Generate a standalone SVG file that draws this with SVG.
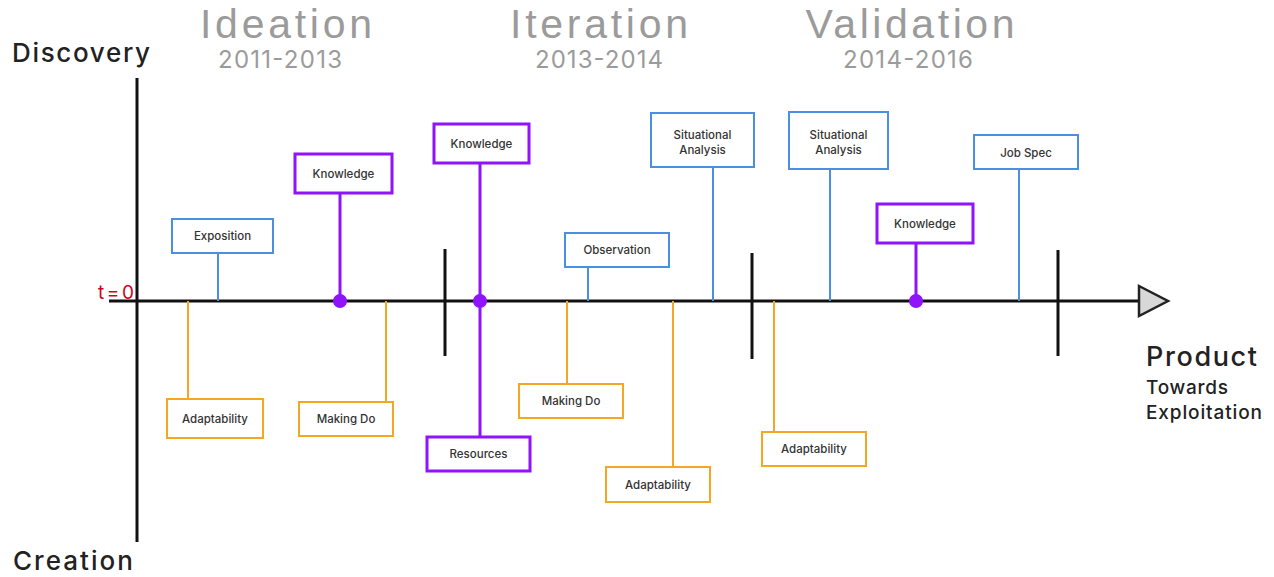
<svg xmlns="http://www.w3.org/2000/svg" width="1274" height="577" viewBox="0 0 1274 577">
  <style>
    .title { font-family: "Liberation Sans", Arial, sans-serif; fill: #9b9b9b; text-anchor: middle; }
    .big { font-size: 41px; }
    .years { font-family: Inter, "Liberation Sans", sans-serif; font-size: 24px; }
    .axislabel { font-family: Inter, "Liberation Sans", sans-serif; fill: #222; font-weight: 500; }
    .box rect { fill: #fff; stroke-width: 2; }
    .box text { font-family: Inter, "Liberation Sans", sans-serif; font-size: 11.5px; font-weight: 500; fill: #333; text-anchor: middle; }
    .blue rect { stroke: #4a90e2; }
    .purple rect { stroke: #9013fe; stroke-width: 3; }
    .orange rect { stroke: #f5a623; }
    .c-blue { stroke: #4a90e2; stroke-width: 2; }
    .c-purple { stroke: #9013fe; stroke-width: 3; }
    .c-orange { stroke: #f5a623; stroke-width: 2; }
    .axis { stroke: #111; stroke-width: 3; fill: none; }
    .dot { fill: #9013fe; }
  </style>

  <!-- phase headings -->
  <g id="phase-ideation">
    <text class="title big" x="286" y="38" textLength="172" lengthAdjust="spacing">Ideation</text>
    <text class="title years" x="280" y="68" textLength="124" lengthAdjust="spacing">2011-2013</text>
  </g>
  <g id="phase-iteration">
    <text class="title big" x="599" y="38" textLength="178" lengthAdjust="spacing">Iteration</text>
    <text class="title years" x="599" y="68" textLength="128" lengthAdjust="spacing">2013-2014</text>
  </g>
  <g id="phase-validation">
    <text class="title big" x="910" y="38" textLength="209" lengthAdjust="spacing">Validation</text>
    <text class="title years" x="908" y="68" textLength="130" lengthAdjust="spacing">2014-2016</text>
  </g>

  <!-- axes -->
  <g id="axes">
    <line class="axis" x1="137" y1="78" x2="137" y2="542"/>
    <line class="axis" x1="109" y1="301" x2="1140" y2="301"/>
    <polygon points="1139,286 1168,301 1139,316" fill="#d8d8d8" stroke="#222" stroke-width="2.5" stroke-linejoin="miter"/>
    <line class="axis" x1="445" y1="249" x2="445" y2="356"/>
    <line class="axis" x1="752" y1="253" x2="752" y2="359"/>
    <line class="axis" x1="1058" y1="250" x2="1058" y2="356"/>
    <text class="axislabel" x="12" y="62" font-size="26" textLength="138" lengthAdjust="spacing">Discovery</text>
    <text class="axislabel" x="13" y="570" font-size="26" textLength="120" lengthAdjust="spacing">Creation</text>
    <text x="98" y="299" font-family="Inter, 'Liberation Sans', sans-serif" font-size="19" fill="#d0021b" textLength="36" lengthAdjust="spacing">t=0</text>
    <text class="axislabel" x="1146" y="366" font-size="27" textLength="111" lengthAdjust="spacing">Product</text>
    <text class="axislabel" x="1146" y="394" font-size="19" textLength="82" lengthAdjust="spacing">Towards</text>
    <text class="axislabel" x="1146" y="419" font-size="19" textLength="116" lengthAdjust="spacing">Exploitation</text>
  </g>

  <!-- connectors from the timeline to each box -->
  <g id="connectors">
    <line class="c-blue" x1="218" y1="253" x2="218" y2="301"/>
    <line class="c-purple" x1="340" y1="193" x2="340" y2="301"/>
    <line class="c-orange" x1="188" y1="301" x2="188" y2="399"/>
    <line class="c-orange" x1="386" y1="301" x2="386" y2="402"/>
    <line class="c-purple" x1="480" y1="163" x2="480" y2="301"/>
    <line class="c-purple" x1="480" y1="301" x2="480" y2="437"/>
    <line class="c-blue" x1="588" y1="267" x2="588" y2="301"/>
    <line class="c-orange" x1="567" y1="301" x2="567" y2="384"/>
    <line class="c-orange" x1="673" y1="301" x2="673" y2="467"/>
    <line class="c-blue" x1="713" y1="167" x2="713" y2="301"/>
    <line class="c-orange" x1="774" y1="301" x2="774" y2="432"/>
    <line class="c-blue" x1="830" y1="169" x2="830" y2="301"/>
    <line class="c-purple" x1="916" y1="243" x2="916" y2="301"/>
    <line class="c-blue" x1="1019" y1="169" x2="1019" y2="301"/>
    <circle class="dot" cx="340" cy="301" r="7"/>
    <circle class="dot" cx="480" cy="301" r="7"/>
    <circle class="dot" cx="916" cy="301" r="7"/>
  </g>

  <g id="exposition" class="box blue">
    <rect x="172" y="219" width="101" height="34"/>
    <text x="222.5" y="240">Exposition</text>
  </g>
  <g id="knowledge-1" class="box purple">
    <rect x="295" y="154" width="97" height="39"/>
    <text x="343.5" y="178">Knowledge</text>
  </g>
  <g id="adaptability-1" class="box orange">
    <rect x="167" y="399" width="96" height="39"/>
    <text x="215" y="423">Adaptability</text>
  </g>
  <g id="making-do-1" class="box orange">
    <rect x="299" y="402" width="94" height="34"/>
    <text x="346" y="423">Making Do</text>
  </g>
  <g id="knowledge-2" class="box purple">
    <rect x="434" y="124" width="95" height="39"/>
    <text x="481.5" y="148">Knowledge</text>
  </g>
  <g id="resources" class="box purple">
    <rect x="427" y="437" width="103" height="34"/>
    <text x="478.5" y="458">Resources</text>
  </g>
  <g id="observation" class="box blue">
    <rect x="565" y="233" width="104" height="34"/>
    <text x="617" y="254">Observation</text>
  </g>
  <g id="making-do-2" class="box orange">
    <rect x="519" y="384" width="104" height="34"/>
    <text x="571" y="405">Making Do</text>
  </g>
  <g id="adaptability-2" class="box orange">
    <rect x="606" y="467" width="104" height="35"/>
    <text x="658" y="489">Adaptability</text>
  </g>
  <g id="situational-analysis-1" class="box blue">
    <rect x="651" y="113" width="103" height="54"/>
    <text x="702.5" y="139">Situational</text>
    <text x="702.5" y="154">Analysis</text>
  </g>
  <g id="adaptability-3" class="box orange">
    <rect x="762" y="432" width="104" height="34"/>
    <text x="814" y="453">Adaptability</text>
  </g>
  <g id="situational-analysis-2" class="box blue">
    <rect x="789" y="112" width="99" height="57"/>
    <text x="838.5" y="139">Situational</text>
    <text x="838.5" y="154">Analysis</text>
  </g>
  <g id="knowledge-3" class="box purple">
    <rect x="877" y="204" width="96" height="39"/>
    <text x="925" y="228">Knowledge</text>
  </g>
  <g id="job-spec" class="box blue">
    <rect x="974" y="135" width="104" height="34"/>
    <text x="1026" y="157">Job Spec</text>
  </g>
</svg>
